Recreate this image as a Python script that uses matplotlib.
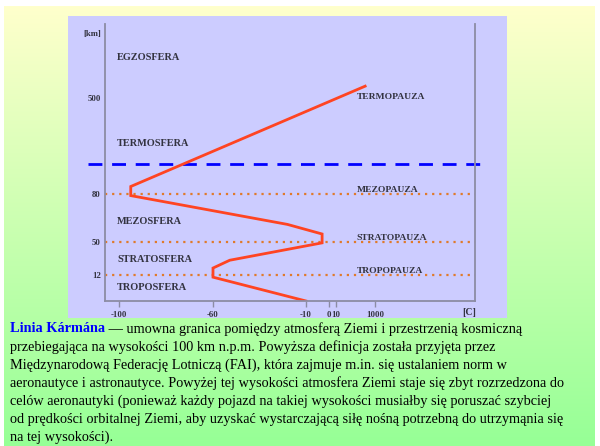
import numpy as np
import matplotlib
matplotlib.use("Agg")
import matplotlib.pyplot as plt
from matplotlib.patches import Rectangle

# temperature profile of the atmosphere (schematic)
temp_c = [-10, -60, -60, -51, -3, -3, -20, -95, -95, 750]
alt_km = [0, 11, 20, 29, 49, 55, 61, 79, 85, 580]

# boundaries
pause_alt = [80, 50, 12]
pause_names = ["MEZOPAUZA", "STRATOPAUZA", "TROPOPAUZA"]
karman_alt = 100

# layer labels (altitude where the name sits)
layer_names = ["EGZOSFERA", "TERMOSFERA", "MEZOSFERA", "STRATOSFERA", "TROPOSFERA"]
layer_alt = [777, 227, 63, 30, 6]

x_ticks = [-100, -60, -10, 0, 10, 1000]
y_ticks = [12, 50, 80, 500]

# schematic (non-linear) axes: value anchors -> position along axis
x_anchor_val = [-107, -100, -60, -10, 0, 10, 1000, 2540]
x_anchor_pos = [0, 14, 108, 201, 224, 231, 270, 370]
y_anchor_val = [0, 12, 50, 80, 100, 500, 1000]
y_anchor_pos = [0, 26, 59, 107, 137, 203, 277]

def fwd(v, a, p):
    return np.interp(v, a, p)

W, H = 600, 446
fig = plt.figure(figsize=(6, 4.46), dpi=100)

# background
bg = fig.add_axes([0, 0, 1, 1])
bg.set_xlim(0, W)
bg.set_ylim(H, 0)
bg.axis("off")
top = np.array([255, 255, 204]) / 255
bot = np.array([150, 255, 150]) / 255
t = np.linspace(0, 1, 200)[:, None]
grad = (top * (1 - t) + bot * t)[:, None, :]
bg.imshow(grad, extent=(4, 595, H, 6), aspect="auto")
bg.add_patch(Rectangle((68, 16), 439, 302, color="#ccccff", lw=0))

ax = fig.add_axes([105 / W, 1 - 301 / H, 370 / W, 277 / H])
ax.set_facecolor("none")
ax.set_xscale("function", functions=(lambda v: fwd(v, x_anchor_val, x_anchor_pos),
                                     lambda p: fwd(p, x_anchor_pos, x_anchor_val)))
ax.set_yscale("function", functions=(lambda v: fwd(v, y_anchor_val, y_anchor_pos),
                                     lambda p: fwd(p, y_anchor_pos, y_anchor_val)))
ax.set_xlim(-107, 2540)
ax.set_ylim(0, 1000)

for s in ["left", "bottom", "right"]:
    ax.spines[s].set_color("#8c8ca4")
    ax.spines[s].set_linewidth(1.3)
ax.spines["top"].set_visible(False)

lab_font = dict(family="Liberation Serif", weight="bold", color="#333340")

ax.set_xticks(x_ticks)
ax.set_xticklabels([str(v) for v in x_ticks], fontsize=6.3, **lab_font)
ax.tick_params(axis="x", length=4, width=1, color="#8c8ca4", pad=3)
ax.set_yticks(y_ticks)
ax.set_yticklabels([str(v) for v in y_ticks], fontsize=6.3, **lab_font)
ax.tick_params(axis="y", length=0, pad=3)
ax.minorticks_off()

ax.text(-0.01, 0.965, "[km]", transform=ax.transAxes, ha="right", va="center", fontsize=6.3, **lab_font)
ax.text(0.985, -0.04, "[C]", transform=ax.transAxes, ha="center", va="center", fontsize=7, **lab_font)

for a, name in zip(pause_alt, pause_names):
    ax.axhline(a, color="#e07a2a", lw=1.6, ls=(0, (1, 2.2)))
    ax.text(540, a, name, fontsize=6.8, va="bottom", ha="left", **lab_font)
ax.text(540, 510, "TERMOPAUZA", fontsize=6.8, va="center", ha="left", **lab_font)

ax.axhline(karman_alt, xmin=-17 / 370, xmax=377 / 370, color="#0000ff", lw=2,
           ls=(0, (5, 3.5)), clip_on=False)

ax.plot(temp_c, alt_km, color="#ff4422", lw=2, solid_joinstyle="miter")

for name, a in zip(layer_names, layer_alt):
    ax.text(-101, a, name, fontsize=7.4, va="center", ha="left", **lab_font)

# description
body = [
    " — umowna granica pomiędzy atmosferą Ziemi i przestrzenią kosmiczną",
    "przebiegająca na wysokości 100 km n.p.m. Powyższa definicja została przyjęta przez",
    "Międzynarodową Federację Lotniczą (FAI), która zajmuje m.in. się ustalaniem norm w",
    "aeronautyce i astronautyce. Powyżej tej wysokości atmosfera Ziemi staje się zbyt rozrzedzona do",
    "celów aeronautyki (ponieważ każdy pojazd na takiej wysokości musiałby się poruszać szybciej",
    "od prędkości orbitalnej Ziemi, aby uzyskać wystarczającą siłę nośną potrzebną do utrzymąnia się",
    "na tej wysokości).",
]
fs = 10.3
title = bg.text(10, 329, "Linia Kármána", family="Liberation Serif", weight="bold",
                color="#0000ff", fontsize=fs, va="center", ha="left")
fig.canvas.draw()
bb = title.get_window_extent()
x_after = bb.x1 * W / (fig.get_figwidth() * fig.dpi)
bg.text(x_after, 329, body[0], family="Liberation Serif", fontsize=fs, va="center", ha="left")
for i, line in enumerate(body[1:], start=1):
    bg.text(10, 329 + 18 * i, line, family="Liberation Serif", fontsize=fs, va="center", ha="left")

fig.savefig("out.png", dpi=100)
